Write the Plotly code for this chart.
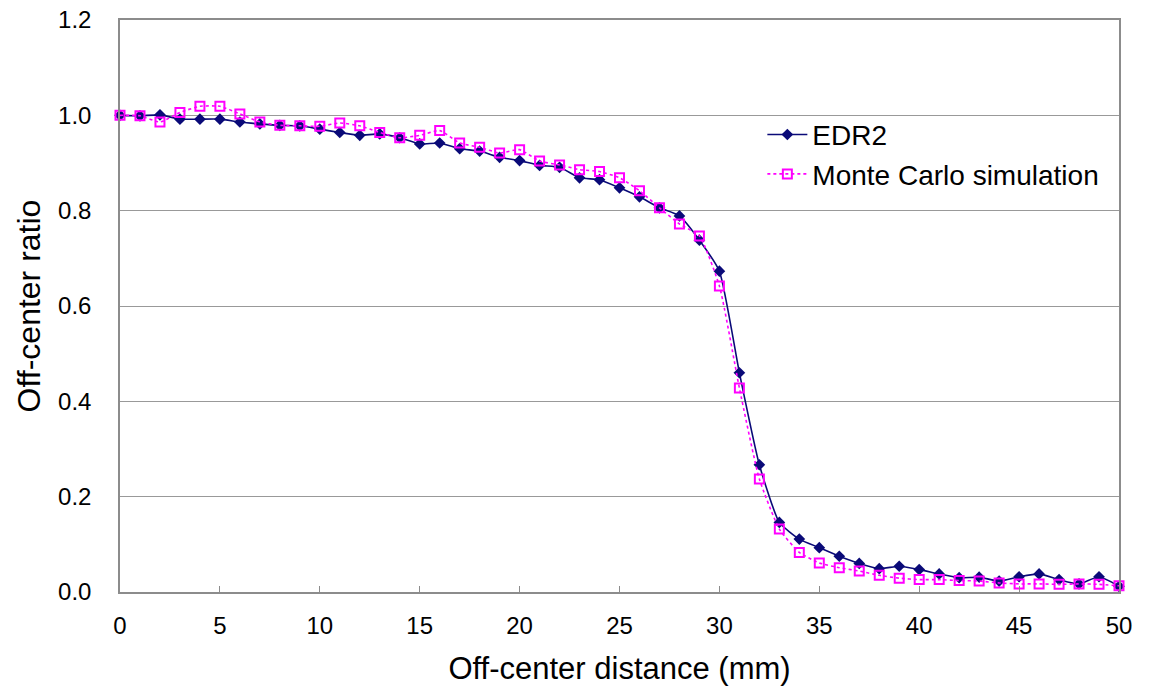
import plotly.graph_objects as go

distance = list(range(0, 51))

edr2 = [1.000, 0.999, 1.001, 0.992, 0.992, 0.992, 0.986, 0.982, 0.979, 0.978,
        0.971, 0.964, 0.958, 0.961, 0.953, 0.940, 0.942, 0.930, 0.925, 0.912,
        0.905, 0.895, 0.891, 0.869, 0.865, 0.848, 0.829, 0.806, 0.789, 0.738,
        0.673, 0.460, 0.267, 0.146, 0.111, 0.093, 0.075, 0.060, 0.049, 0.054,
        0.047, 0.038, 0.030, 0.031, 0.023, 0.032, 0.038, 0.026, 0.017, 0.032,
        0.012]

monte_carlo = [1.000, 0.999, 0.986, 1.006, 1.019, 1.019, 1.003, 0.986, 0.979, 0.978,
               0.977, 0.984, 0.978, 0.964, 0.953, 0.958, 0.968, 0.942, 0.933, 0.921,
               0.928, 0.904, 0.896, 0.886, 0.882, 0.869, 0.842, 0.806, 0.772, 0.747,
               0.642, 0.428, 0.237, 0.132, 0.083, 0.061, 0.051, 0.044, 0.035, 0.029,
               0.026, 0.026, 0.024, 0.023, 0.019, 0.017, 0.017, 0.016, 0.017, 0.016,
               0.013]

y_ticks = [0.0, 0.2, 0.4, 0.6, 0.8, 1.0, 1.2]
x_ticks = list(range(0, 51, 5))

FONT = "Liberation Sans, Arial, sans-serif"

fig = go.Figure()
fig.add_trace(go.Scatter(
    x=distance, y=edr2, name="EDR2", mode="lines+markers",
    line=dict(color="#0a0a78", width=1.6, shape="spline", smoothing=0.5),
    marker=dict(symbol="diamond", size=9, color="#0a0a78"),
    cliponaxis=False,
))
fig.add_trace(go.Scatter(
    x=distance, y=monte_carlo, name="Monte Carlo simulation", mode="lines+markers",
    line=dict(color="#ff00ff", width=1.6, dash="dot", shape="spline", smoothing=0.5),
    marker=dict(symbol="square-open", size=9, color="#ff00ff", line=dict(width=2, color="#ff00ff")),
    cliponaxis=False,
))

fig.update_layout(
    width=1151, height=692,
    margin=dict(l=120, r=32, t=20, b=100),
    paper_bgcolor="white", plot_bgcolor="white",
    font=dict(family=FONT, color="#000000"),
    showlegend=True,
    legend=dict(x=0.643, y=0.843, xanchor="left", yanchor="top",
                font=dict(size=28, family=FONT, color="#000000"),
                bgcolor="rgba(255,255,255,0)", tracegroupgap=0, itemwidth=40),
    xaxis=dict(
        range=[0, 50], tickvals=x_ticks, ticktext=[str(v) for v in x_ticks],
        showgrid=False, showline=True, linecolor="#8c8c8c", linewidth=1.5, mirror=True,
        ticks="inside", ticklen=6, tickcolor="#8c8c8c", ticklabelstandoff=11,
        tickfont=dict(size=24, family=FONT), zeroline=False, automargin=False,
        title=dict(text="Off-center distance (mm)", font=dict(size=31, family=FONT), standoff=20),
    ),
    yaxis=dict(
        range=[0, 1.2], tickvals=y_ticks, ticktext=[f"{v:.1f}" for v in y_ticks],
        showgrid=True, gridcolor="#999999", gridwidth=1.2,
        showline=True, linecolor="#8c8c8c", linewidth=1.5, mirror=True,
        ticks="", tickfont=dict(size=24, family=FONT), zeroline=False, ticklabelstandoff=22,
        automargin=False,
        title=dict(text="Off-center ratio", font=dict(size=32, family=FONT), standoff=8),
    ),
)

fig.write_html("out.html")
